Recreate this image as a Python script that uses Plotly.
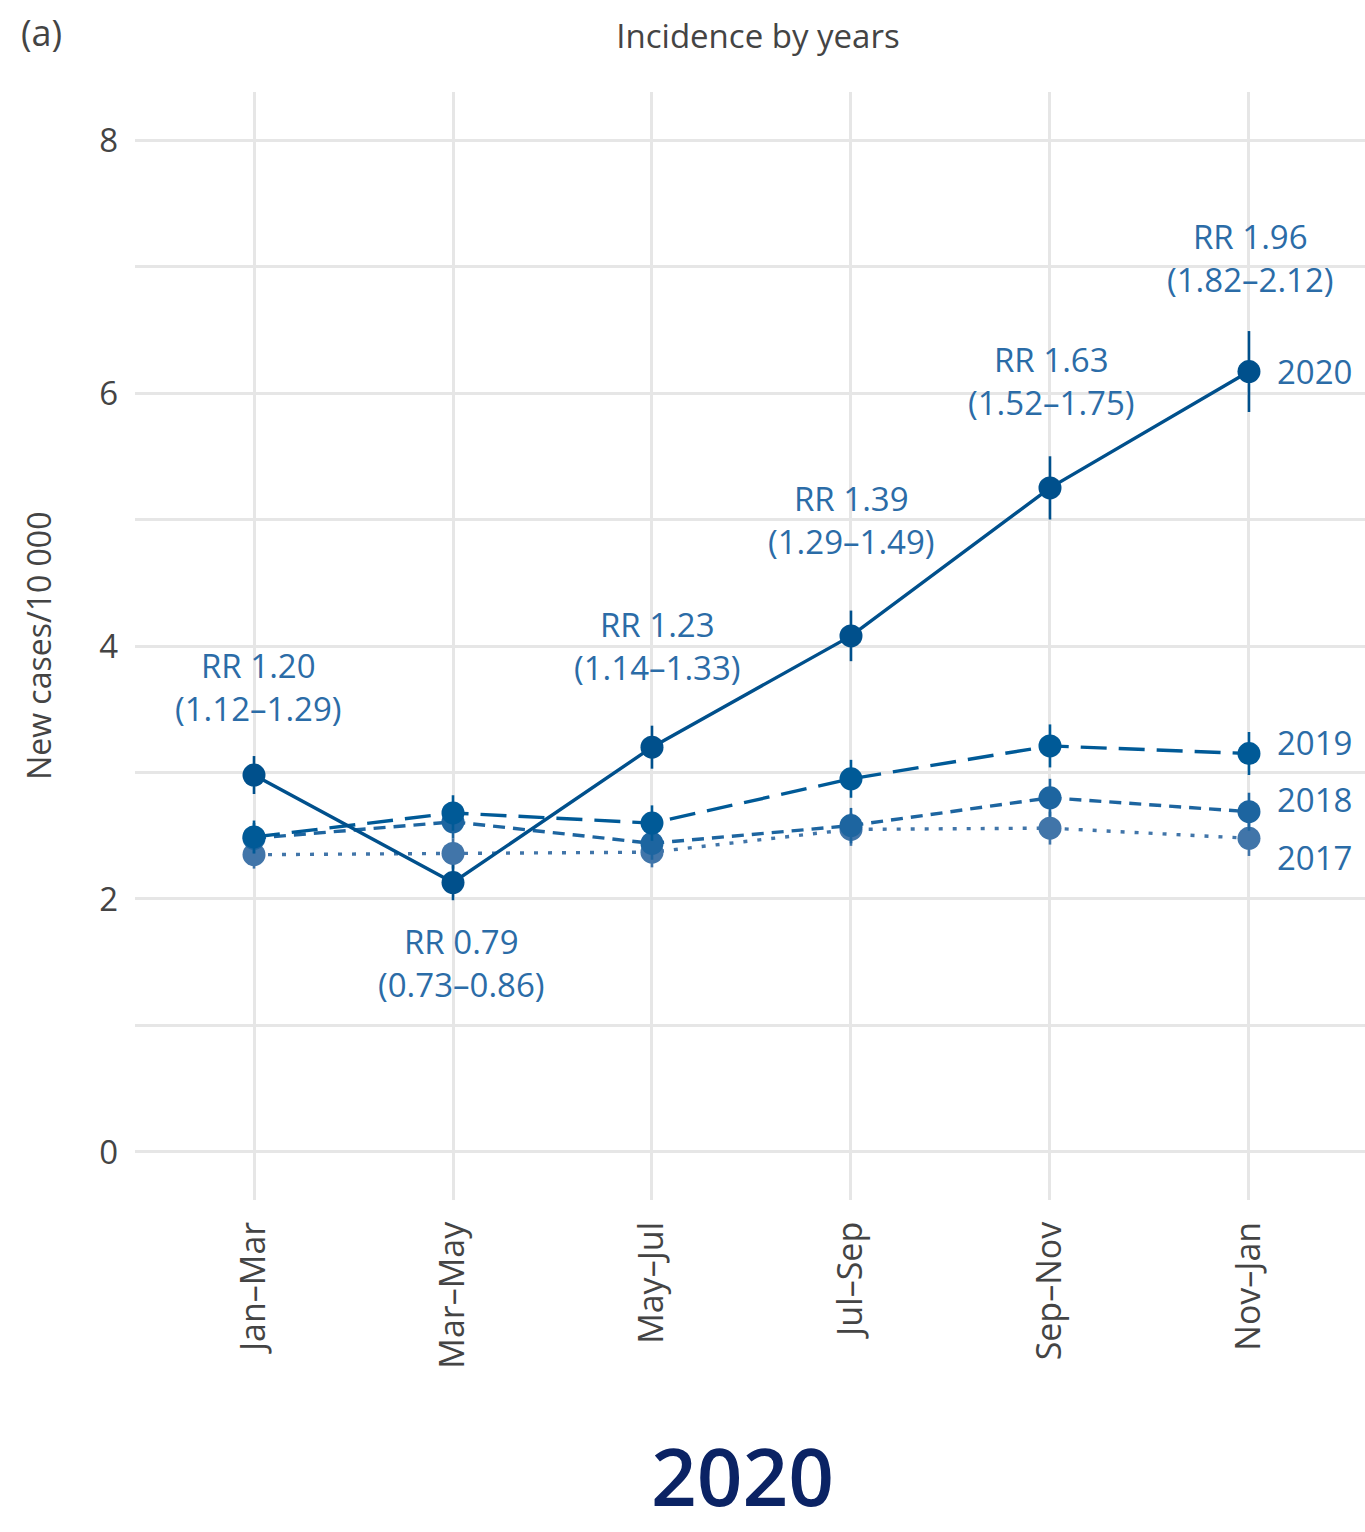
import plotly.graph_objects as go

periods = ["Jan–Mar", "Mar–May", "May–Jul", "Jul–Sep", "Sep–Nov", "Nov–Jan"]
years = ["2017", "2018", "2019", "2020"]
values = {
    "2017": [2.35, 2.36, 2.37, 2.55, 2.56, 2.48],
    "2018": [2.48, 2.61, 2.44, 2.58, 2.80, 2.69],
    "2019": [2.49, 2.68, 2.60, 2.95, 3.21, 3.15],
    "2020": [2.98, 2.13, 3.20, 4.08, 5.25, 6.17],
}
errors = {
    "2017": [0.11, 0.12, 0.12, 0.13, 0.13, 0.14],
    "2018": [0.12, 0.13, 0.13, 0.14, 0.15, 0.15],
    "2019": [0.13, 0.14, 0.14, 0.15, 0.17, 0.17],
    "2020": [0.15, 0.14, 0.17, 0.20, 0.25, 0.32],
}
rr_labels = ["RR 1.20<br>(1.12–1.29)", "RR 0.79<br>(0.73–0.86)", "RR 1.23<br>(1.14–1.33)",
             "RR 1.39<br>(1.29–1.49)", "RR 1.63<br>(1.52–1.75)", "RR 1.96<br>(1.82–2.12)"]
rr_yshift = [88, -80, 101, 116, 107, 114]
rr_xshift = [4, 8, 6, 1, 2, 2]

colors = {"2017": "#4175a9", "2018": "#1d65a0", "2019": "#005a97", "2020": "#00508c"}
dashes = {"2017": "4px,10px", "2018": "12px,8px", "2019": "26px,12px", "2020": "solid"}
label_yshift = {"2017": -19, "2018": 12, "2019": 11, "2020": 0}

FONT = "Open Sans"
fig = go.Figure()
for y in years:
    fig.add_trace(go.Scatter(
        x=periods, y=values[y], mode="lines+markers", name=y,
        line=dict(color=colors[y], width=3.4, dash=dashes[y]),
        marker=dict(color=colors[y], size=23),
        error_y=dict(type="data", array=errors[y], visible=True, color=colors[y],
                     thickness=2.6, width=0),
        showlegend=False,
    ))

ann_color = "#2b6ca7"
for i, t in enumerate(rr_labels):
    fig.add_annotation(x=periods[i], y=values["2020"][i], text=t, showarrow=False,
                       yshift=rr_yshift[i], xshift=rr_xshift[i],
                       font=dict(family=FONT, size=33, color=ann_color), align="center")

for y in years:
    fig.add_annotation(x=periods[-1], y=values[y][-1], text=y, showarrow=False,
                       xanchor="left", xshift=26, yshift=label_yshift[y],
                       font=dict(family=FONT, size=33, color=ann_color))

fig.add_annotation(xref="paper", yref="paper", x=-0.094, y=1.054, text="(a)",
                   showarrow=False, xanchor="left", yanchor="middle",
                   font=dict(family=FONT, size=36, color="#444444"))
fig.add_annotation(xref="paper", yref="paper", x=-0.079, y=0.5, text="New cases/10 000",
                   showarrow=False, textangle=-90, xanchor="center", yanchor="middle",
                   font=dict(family=FONT, size=32, color="#444444"))
fig.add_annotation(xref="paper", yref="paper", x=0.494, y=-0.2975, text="2020",
                   showarrow=False, xanchor="center", yanchor="bottom", borderpad=0,
                   font=dict(family=FONT, size=80, color="#0b2364", weight=600))

fig.update_layout(
    width=1365, height=1532,
    margin=dict(l=135, r=0, t=92, b=332),
    paper_bgcolor="white", plot_bgcolor="white",
    title=dict(text="Incidence by years", xref="paper", x=0.5065, xanchor="center",
               yref="container", y=1 - 36 / 1532, yanchor="middle",
               font=dict(family=FONT, size=33, color="#444444")),
    font=dict(family=FONT, color="#444444"),
)
fig.update_xaxes(range=[-0.598, 5.583], showgrid=True, gridcolor="#e6e6e6", gridwidth=2.5,
                 tickangle=-90, ticks="", showline=False, zeroline=False,
                 tickfont=dict(family=FONT, size=34, color="#444444"), ticklabelstandoff=14)
fig.update_yaxes(range=[-0.38, 8.38], tickvals=[0, 2, 4, 6, 8], showgrid=True,
                 gridcolor="#e6e6e6", gridwidth=2.5, zeroline=False, showline=False, ticks="",
                 minor=dict(dtick=1, showgrid=True, gridcolor="#e6e6e6", gridwidth=2.5),
                 tickfont=dict(family=FONT, size=33, color="#444444"), ticklabelstandoff=16)

fig.write_html("out.html")
